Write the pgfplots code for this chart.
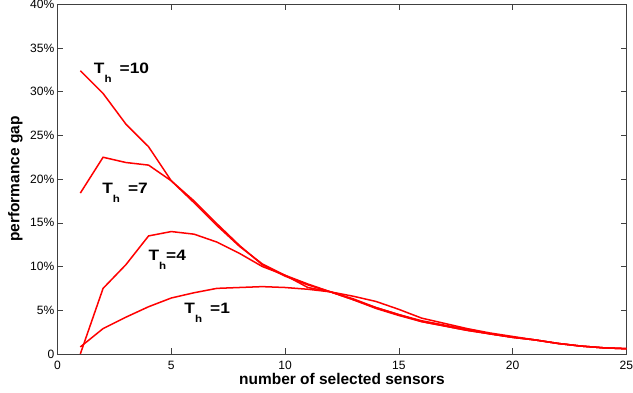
\documentclass[border=0pt]{standalone}
\usepackage{pgfplots}
\pgfplotsset{compat=1.18}
\usepackage{fontspec}
\setmainfont{Liberation Sans}
\newfontfamily\thfont{Liberation Sans}[FakeStretch=1.15]
\newcommand{\Th}[1]{{\thfont\fontsize{15}{17}\selectfont\bfseries T\raisebox{-9pt}{\fontsize{10}{10}\selectfont\bfseries h}#1}}
\begin{document}
\begin{tikzpicture}[x=1pt,y=1pt]
\begin{axis}[
  scale only axis,
  width=566pt, height=348pt,
  xmin=0, xmax=25, ymin=0, ymax=40,
  xtick={0,5,10,15,20,25},
  ytick={0,5,10,15,20,25,30,35,40},
  yticklabels={0,5\%,10\%,15\%,20\%,25\%,30\%,35\%,40\%},
  tick align=inside,
  major tick length=5.5pt,
  tick style={black!75, line width=0.6pt},
  axis line style={black!75, line width=0.6pt},
  ticklabel style={font=\fontsize{12}{13}\selectfont},
  yticklabel style={inner ysep=0pt, inner xsep=3pt},
  xticklabel style={inner sep=0pt, yshift=-7pt},
  /pgf/number format/assume math mode=true,
  xlabel={\textbf{number of selected sensors}\rule[-8pt]{0pt}{0pt}},
  ylabel={\rule{0pt}{16pt}\textbf{performance gap}},
  label style={font=\fontsize{15.4}{17}\selectfont},
  xlabel style={at={(axis description cs:0.5,0)}, anchor=base, yshift=-30.5pt, inner ysep=0pt},
  ylabel style={at={(axis description cs:-0.0671,0.5)}, anchor=base},
  clip=true,
]
% T_h = 10
\addplot[red, line width=1.5pt] coordinates {(1,32.4)(2,29.8)(3,26.3)(4,23.7)(5,19.8)(6,17.3)(7,14.7)(8,12.3)(9,10.3)(10,9.0)(11,8.0)(12,7.1)(13,6.2)(14,5.3)(15,4.5)(16,3.7)(17,3.2)(18,2.7)(19,2.3)(20,1.9)(21,1.6)(22,1.2)(23,0.9)(24,0.7)(25,0.6)};
% T_h = 7
\addplot[red, line width=1.5pt] coordinates {(1,18.4)(2,22.5)(3,21.9)(4,21.6)(5,19.8)(6,17.5)(7,14.9)(8,12.4)(9,10.2)(10,8.9)(11,7.9)(12,7.1)(13,6.2)(14,5.2)(15,4.4)(16,3.7)(17,3.2)(18,2.7)(19,2.3)(20,1.9)(21,1.6)(22,1.2)(23,0.9)(24,0.7)(25,0.6)};
% T_h = 4
\addplot[red, line width=1.5pt] coordinates {(1,0)(2,7.5)(3,10.2)(4,13.5)(5,14.0)(6,13.7)(7,12.8)(8,11.5)(9,10.0)(10,9.0)(11,7.6)(12,7.1)(13,6.3)(14,5.3)(15,4.5)(16,3.8)(17,3.3)(18,2.8)(19,2.3)(20,1.9)(21,1.6)(22,1.2)(23,0.9)(24,0.7)(25,0.6)};
% T_h = 1
\addplot[red, line width=1.5pt] coordinates {(1,0.8)(2,2.9)(3,4.2)(4,5.4)(5,6.4)(6,7.0)(7,7.5)(8,7.6)(9,7.7)(10,7.6)(11,7.4)(12,7.1)(13,6.6)(14,6.0)(15,5.1)(16,4.1)(17,3.5)(18,2.9)(19,2.4)(20,2.0)(21,1.6)(22,1.2)(23,0.9)(24,0.7)(25,0.6)};
\node[anchor=base west, inner sep=0pt] at (axis cs:1.59,32.07) {\Th{\hspace{8pt}=10}};
\node[anchor=base west, inner sep=0pt] at (axis cs:1.96,18.4) {\Th{\hspace{8pt}=7}};
\node[anchor=base west, inner sep=0pt] at (axis cs:3.99,10.7) {\Th{=4}};
\node[anchor=base west, inner sep=0pt] at (axis cs:5.57,4.65) {\Th{\hspace{8pt}=1}};
\end{axis}
\end{tikzpicture}
\end{document}
